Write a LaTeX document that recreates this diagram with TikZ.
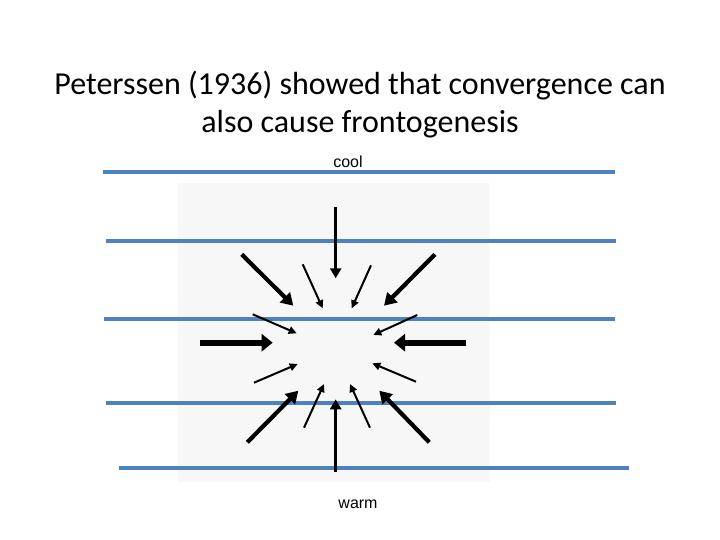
\documentclass[tikz,border=0pt]{standalone}
\usepackage{fontspec}
\setmainfont{Carlito}
\newfontfamily\labelfont{Liberation Sans}
\usetikzlibrary{arrows.meta}
\definecolor{isoblue}{HTML}{4F81BD}
\tikzset{
  isotherm/.style={line width=4.5pt, color=isoblue},
  widearrow/.style={line width=6pt, -{Triangle[length=11pt,width=17pt]}},
  diagarrow/.style={line width=4.2pt, -{Triangle[length=12pt,width=14pt]}},
  vertarrow/.style={line width=3pt, -{Triangle[length=10pt,width=11pt]}},
  thinarrow/.style={line width=2pt, -{Triangle[length=8pt,width=7.5pt]}},
  label/.style={font=\labelfont\fontsize{16}{18}\selectfont, anchor=base}
}
\begin{document}
\begin{tikzpicture}[x=1pt,y=-1pt]
  \useasboundingbox (0,0) rectangle (720,540);

  \node[align=center, font=\fontsize{32}{38}\selectfont, anchor=base] (title) at (360,133)
    {Peterssen (1936) showed that convergence can\\also cause frontogenesis};

  % faint background of the inset
  \fill[black!3] (178,183) rectangle (490,482);

  % isotherms
  \draw[isotherm] (103,172) -- (615,172);
  \draw[isotherm] (106,241) -- (616,241);
  \draw[isotherm] (104,319) -- (615,319);
  \draw[isotherm] (106,403) -- (616,403);
  \draw[isotherm] (119,468) -- (629,468);

  \node[label] (cool) at (348,168) {cool};
  \node[label] (warm) at (358,508) {warm};

  % converging winds
  \draw[vertarrow] (335.7,206.7) -- (335.7,278.3);
  \draw[vertarrow] (335.7,471.7) -- (335.7,399.3);

  \draw[widearrow] (200,342.7) -- (272.7,342.7);
  \draw[widearrow] (466,342.7) -- (394,342.7);

  \draw[diagarrow] (241.7,254.3) -- (293.3,305.7);
  \draw[diagarrow] (435,254.3) -- (384,305.7);
  \draw[diagarrow] (247.3,442.3) -- (298.3,390.7);
  \draw[diagarrow] (429.3,442.3) -- (379.3,390.7);

  \draw[thinarrow] (302.7,264.3) -- (322.7,308.3);
  \draw[thinarrow] (371,265.3) -- (351.7,308.3);
  \draw[thinarrow] (252.7,314.3) -- (296.7,333.3);
  \draw[thinarrow] (417.3,315) -- (373.3,335);
  \draw[thinarrow] (254,382.7) -- (297.7,364);
  \draw[thinarrow] (416,381.7) -- (372.3,363.3);
  \draw[thinarrow] (304,427.7) -- (324,384);
  \draw[thinarrow] (370,427.7) -- (350,384);

\end{tikzpicture}
\end{document}
